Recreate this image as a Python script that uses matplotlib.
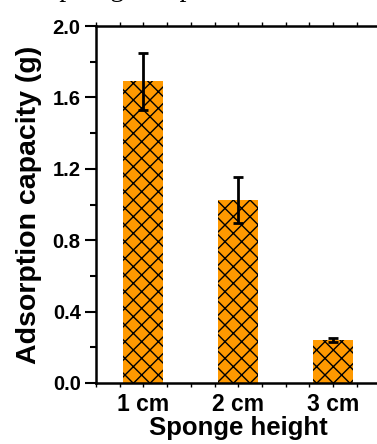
import numpy as np
import matplotlib.pyplot as plt
from matplotlib.ticker import MultipleLocator

plt.rcParams['font.family'] = ['Liberation Sans', 'DejaVu Sans']
plt.rcParams['font.weight'] = 'bold'
plt.rcParams['hatch.linewidth'] = 1.0

heights = ["1 cm", "2 cm", "3 cm"]
capacity = [1.69, 1.025, 0.24]
errors = [0.16, 0.13, 0.012]

x = np.arange(1, len(heights) + 1)

fig = plt.figure(figsize=(3.77, 4.44), dpi=100)
ax = fig.add_axes([0.2546, 0.1374, 0.7547, 0.804])

ax.bar(x, capacity, width=0.42, color='#FF9900', edgecolor='black',
       linewidth=0, hatch='xx', zorder=2)
ax.errorbar(x, capacity, yerr=errors, fmt='none', ecolor='black',
            elinewidth=2, capsize=3.6, capthick=2, zorder=3)

ax.set_xlim(0.5, 3.5)
ax.set_ylim(0, 2.0)
ax.set_xticks(x)
ax.set_xticklabels(heights)
ax.xaxis.set_minor_locator(MultipleLocator(0.25))
ax.yaxis.set_major_locator(MultipleLocator(0.4))
ax.yaxis.set_minor_locator(MultipleLocator(0.2))
ax.set_yticklabels([f"{v:.1f}" for v in ax.get_yticks()])

for s in ax.spines.values():
    s.set_linewidth(1.8)

ax.tick_params(axis='y', which='major', direction='out', length=8, width=1.5,
               labelsize=14.5, pad=3)
ax.tick_params(axis='y', which='minor', direction='out', length=4.5, width=1.5)
ax.tick_params(axis='x', which='both', direction='out', length=3, width=1,
               labelsize=16.5, pad=4, top=True)

ax.set_xlabel("Sponge height", fontsize=18.5, fontweight='bold', labelpad=0)
ax.set_ylabel("Adsorption capacity (g)", fontsize=20.5, fontweight='bold', labelpad=8)

# caption fragment cut off at the top edge of the original figure
fig.text(38 / 377, 1 + 4.5 / 444, "top of gel to pH", family='Liberation Serif',
         fontsize=20, fontweight='normal', va='baseline')

fig.savefig("out.png", dpi=100)
